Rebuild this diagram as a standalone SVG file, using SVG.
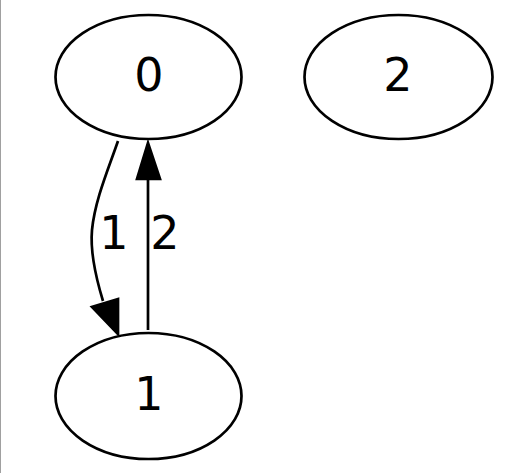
<svg xmlns="http://www.w3.org/2000/svg" width="510" height="473" viewBox="0 0 510 473">
<style>
.node ellipse{fill:none;stroke:#000;stroke-width:2.7}
text{font-family:"DejaVu Sans",sans-serif;font-size:46px;fill:#000;text-anchor:middle}
.edge path{fill:none;stroke:#000;stroke-width:2.7}
.edge polygon{fill:#000;stroke:#000;stroke-width:2.7}
</style>
<rect x="0" y="0" width="510" height="473" fill="#fff"/>
<line x1="0.5" y1="0" x2="0.5" y2="473" stroke="#a0a0a0" stroke-width="1"/>
<g id="connectors">
<g class="edge" id="e0_1">
<path d="M118,141 C108,170 95,200 92,230 C90,252 96,278 103,301"/>
<polygon points="118,334 92,307 118,299"/>
</g>
<g class="edge" id="e1_0">
<path d="M148,330 L148,179"/>
<polygon points="148,143 137,179 160,179"/>
</g>
<text x="114" y="249">1</text>
<text x="165" y="249">2</text>
</g>
<g class="node" id="node0"><ellipse cx="148.5" cy="77" rx="93" ry="62"/><text x="149" y="91">0</text></g>
<g class="node" id="node1"><ellipse cx="148.5" cy="396" rx="93" ry="63"/><text x="149" y="410">1</text></g>
<g class="node" id="node2"><ellipse cx="398.5" cy="77" rx="94" ry="62"/><text x="398" y="91">2</text></g>
</svg>
